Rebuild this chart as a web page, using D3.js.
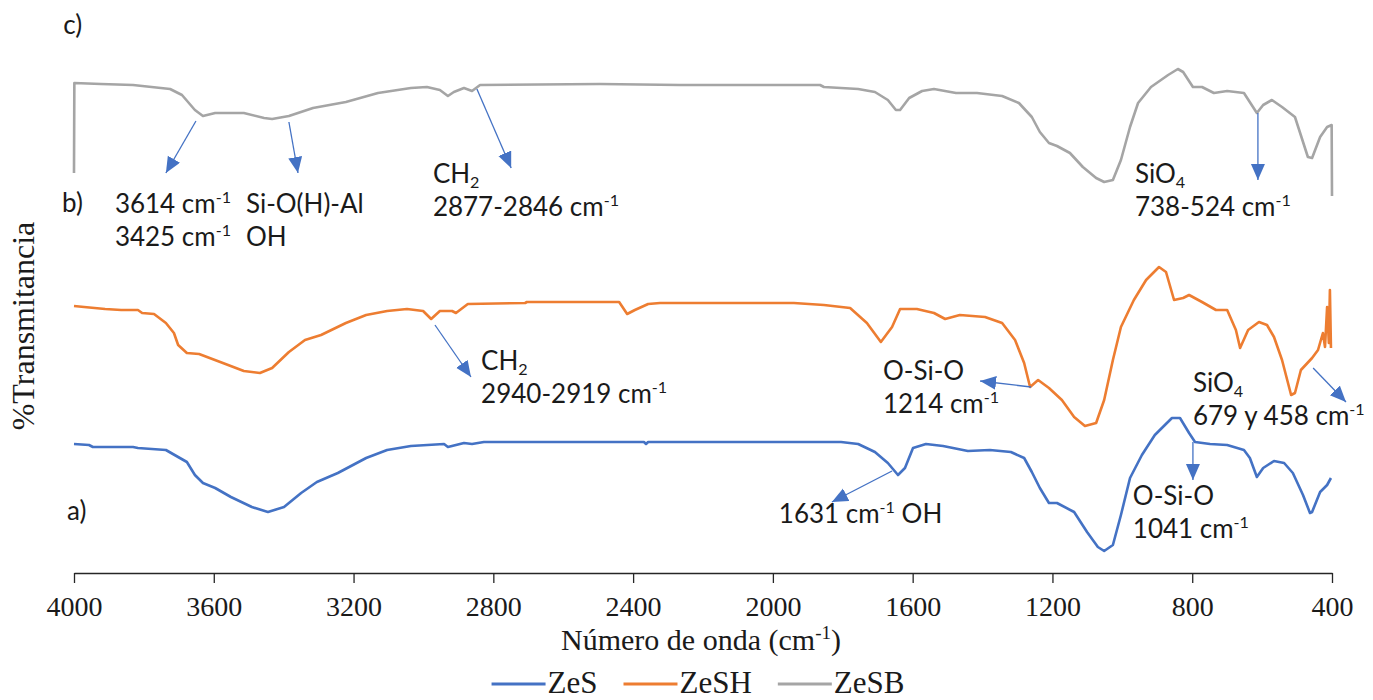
<!DOCTYPE html>
<html>
<head>
<meta charset="utf-8">
<script src="https://cdn.jsdelivr.net/npm/d3@7"></script>
<style>
  body { margin: 0; background: #ffffff; }
  svg { display: block; }
</style>
</head>
<body>
<svg id="chart" width="1373" height="700"></svg>
<script>
// ---- FTIR spectra: wavenumber (cm-1) and transmittance (offset, arbitrary %T) ----
const seriesNames = ["ZeS", "ZeSH", "ZeSB"];
const seriesColors = ["#4472C4", "#ED7D31", "#A5A5A5"];
const xTickValues = [4000, 3600, 3200, 2800, 2400, 2000, 1600, 1200, 800, 400];

// a) ZeS
const zesWn = [4000, 3957, 3946, 3831, 3817, 3737, 3702, 3677, 3654, 3631, 3596, 3551, 3491, 3445, 3399, 3350, 3305, 3245, 3164, 3104, 3036, 2941, 2930, 2884, 2861, 2827, 2369, 2363, 2357, 1805, 1756, 1708, 1671, 1642, 1622, 1599, 1562, 1513, 1442, 1379, 1319, 1281, 1259, 1236, 1210, 1187, 1138, 1101, 1070, 1052, 1027, 1004, 978, 944, 907, 858, 835, 809, 792, 749, 700, 652, 635, 615, 597, 566, 537, 512, 483, 463, 457, 434, 414, 403];
const zesT = [25.8, 25.6, 25.2, 25.2, 25.0, 24.6, 23.2, 22.2, 19.6, 18.0, 17.0, 15.2, 13.2, 12.2, 13.2, 16.0, 18.2, 20.0, 23.0, 24.6, 25.4, 25.8, 25.2, 26.0, 25.8, 26.2, 26.2, 25.8, 26.2, 26.2, 25.8, 24.2, 22.0, 19.6, 21.0, 25.0, 25.8, 25.4, 24.4, 24.6, 24.2, 23.0, 20.2, 17.0, 14.0, 14.0, 12.2, 8.2, 5.2, 4.4, 5.6, 11.6, 19.0, 23.6, 27.6, 31.0, 31.0, 28.0, 26.2, 25.8, 25.6, 24.6, 23.0, 19.2, 21.0, 22.4, 22.0, 20.0, 15.6, 12.0, 12.2, 16.2, 17.6, 19.0];

// b) ZeSH
const zeshWn = [4000, 3971, 3911, 3865, 3817, 3805, 3771, 3737, 3714, 3702, 3677, 3642, 3574, 3514, 3468, 3433, 3385, 3339, 3293, 3222, 3164, 3104, 3047, 3001, 2978, 2953, 2918, 2907, 2873, 2709, 2704, 2440, 2417, 2395, 2357, 2323, 2266, 1940, 1854, 1779, 1731, 1691, 1659, 1636, 1588, 1539, 1507, 1465, 1393, 1344, 1307, 1281, 1264, 1241, 1210, 1173, 1138, 1107, 1075, 1052, 1027, 1004, 967, 932, 895, 875, 852, 826, 809, 772, 732, 700, 675, 663, 640, 609, 586, 566, 543, 517, 506, 489, 457, 440, 426, 420, 414, 409, 406, 403];
const zeshT = [53.4, 53.2, 52.8, 52.6, 52.6, 52.0, 51.8, 50.0, 48.0, 45.6, 44.0, 43.8, 42.0, 40.4, 40.0, 41.0, 44.2, 46.6, 47.6, 50.0, 51.6, 52.4, 52.8, 52.4, 50.8, 52.4, 52.4, 52.0, 53.8, 54.0, 54.2, 54.2, 51.8, 52.6, 53.8, 54.0, 54.0, 54.0, 53.6, 53.0, 50.0, 46.2, 49.2, 52.8, 52.8, 52.0, 50.8, 51.6, 51.2, 50.0, 46.6, 42.0, 37.2, 38.6, 37.0, 34.6, 31.2, 29.4, 30.0, 34.6, 42.6, 49.2, 54.6, 58.6, 61.2, 60.2, 54.6, 55.0, 55.6, 54.2, 52.6, 52.6, 48.6, 45.0, 48.6, 50.2, 49.6, 47.2, 42.6, 35.6, 36.0, 40.6, 43.0, 44.6, 48.0, 45.2, 53.2, 46.0, 56.6, 45.0];

// c) ZeSB
const zesbWn = [4000, 3999, 3923, 3831, 3725, 3691, 3654, 3631, 3596, 3514, 3456, 3433, 3385, 3316, 3222, 3130, 3036, 2990, 2953, 2930, 2913, 2884, 2861, 2838, 2495, 2266, 1865, 1854, 1756, 1708, 1671, 1648, 1636, 1610, 1573, 1539, 1476, 1416, 1344, 1296, 1259, 1236, 1210, 1187, 1150, 1113, 1075, 1052, 1027, 1004, 978, 955, 918, 869, 841, 826, 798, 772, 738, 700, 652, 615, 597, 572, 543, 506, 469, 457, 434, 414, 401, 400];
const zesbT = [80.0, 98.0, 97.8, 97.6, 96.8, 95.6, 92.6, 91.4, 92.0, 92.0, 91.0, 90.8, 91.4, 93.0, 94.2, 96.0, 97.0, 97.2, 96.6, 95.4, 96.2, 97.0, 96.4, 97.6, 97.8, 97.6, 97.6, 97.2, 96.8, 96.2, 94.6, 92.6, 92.6, 95.0, 96.4, 96.8, 96.0, 96.0, 95.4, 94.0, 91.2, 88.2, 86.0, 85.4, 84.0, 81.2, 79.0, 78.2, 78.6, 82.6, 89.2, 94.0, 97.2, 99.6, 100.8, 100.2, 97.2, 97.2, 96.0, 96.4, 96.0, 92.0, 93.6, 94.6, 93.2, 91.2, 83.2, 83.0, 87.2, 89.2, 89.6, 75.4];

// Band labels: [wavenumber, %T] anchor of the first line, text lines ("_{}" subscript, "^{}" superscript)
const bandLabels = [
  { at: [4031, 107.8], lines: ["c)"] },
  { at: [4034, 72.2], lines: ["b)"] },
  { at: [4020, 10.6], lines: ["a)"] },
  { at: [3883, 72.0], lines: ["3614 cm^{-1}", "3425 cm^{-1}"] },
  { at: [3508, 72.0], lines: ["Si-O(H)-Al", "OH"] },
  { at: [2973, 78.0], lines: ["CH_{2}", "2877-2846 cm^{-1}"] },
  { at: [964, 78.0], lines: ["SiO_{4}", "738-524 cm^{-1}"] },
  { at: [2835, 40.6], lines: ["CH_{2}", "2940-2919 cm^{-1}"] },
  { at: [1685, 38.6], lines: ["O-Si-O", "1214 cm^{-1}"] },
  { at: [798, 36.2], lines: ["SiO_{4}", "679 y 458 cm^{-1}"] },
  { at: [1983, 10.0], lines: ["1631 cm^{-1} OH"] },
  { at: [970, 13.6], lines: ["O-Si-O", "1041 cm^{-1}"] }
];
// Arrows from a band to its label: [wnFrom, tFrom, wnTo, tTo]
const bandArrows = [
  [3651, 90.4, 3737, 80.0],
  [3385, 90.2, 3359, 80.0],
  [2847, 96.8, 2749, 81.0],
  [612, 92.0, 612, 78.6],
  [2967, 49.6, 2864, 39.2],
  [1261, 37.2, 1407, 38.4],
  [454, 41.0, 360, 34.2],
  [1659, 20.4, 1831, 14.2],
  [798, 26.2, 798, 18.6]
];

const svg = d3.select("#chart");
const serif = "'Liberation Serif', 'Times New Roman', serif";
const sans = "Lato, 'Open Sans', sans-serif";
const annSize = 26;

const x = d3.scaleLinear().domain([4000, 400]).range([74, 1332]);
const y = d3.scaleLinear().domain([0, 104]).range([573, 53]);

// spectra
const series = [
  { wn: zesWn, t: zesT },
  { wn: zeshWn, t: zeshT },
  { wn: zesbWn, t: zesbT }
];
const line = d3.line().x(d => x(d[0])).y(d => y(d[1]));
series.forEach((s, i) => {
  svg.append("path")
    .datum(s.wn.map((w, k) => [w, s.t[k]]))
    .attr("d", line)
    .attr("fill", "none")
    .attr("stroke", seriesColors[i])
    .attr("stroke-width", 2.6)
    .attr("stroke-linejoin", "round");
});

// x axis
const xAxis = svg.append("g")
  .attr("transform", `translate(0,${y(0)})`)
  .call(d3.axisBottom(x).tickValues(xTickValues).tickFormat(d3.format("d"))
    .tickSize(10).tickSizeOuter(0).tickPadding(13));
xAxis.select(".domain").attr("stroke", "#262626").attr("stroke-width", 1.6);
xAxis.selectAll(".tick line").attr("stroke", "#262626").attr("stroke-width", 1.3);
xAxis.selectAll(".tick text")
  .attr("font-family", serif).attr("font-size", 28).attr("fill", "#1a1a1a");

// axis titles
const xTitle = svg.append("text")
  .attr("x", 701).attr("y", 650)
  .attr("text-anchor", "middle")
  .attr("font-family", serif).attr("font-size", 30).attr("fill", "#1a1a1a");
xTitle.append("tspan").text("Número de onda (cm");
xTitle.append("tspan").attr("font-size", 19).attr("dy", -11).text("-1");
xTitle.append("tspan").attr("dy", 11).text(")");

svg.append("text")
  .attr("transform", "translate(34,326) rotate(-90)")
  .attr("text-anchor", "middle")
  .attr("font-family", serif).attr("font-size", 32).attr("fill", "#1a1a1a")
  .text("%Transmitancia");

// text with simple sub/superscript markup
function richText(sel, str, size) {
  const parts = str.split(/(\^\{[^}]*\}|_\{[^}]*\})/).filter(p => p.length);
  let shift = 0;
  parts.forEach(p => {
    const ts = sel.append("tspan");
    if (p.startsWith("^{")) {
      ts.attr("font-size", size * 0.62).attr("dy", -size * 0.38 - shift).text(p.slice(2, -1));
      shift = -size * 0.38;
    } else if (p.startsWith("_{")) {
      ts.attr("font-size", size * 0.62).attr("dy", size * 0.2 - shift).text(p.slice(2, -1));
      shift = size * 0.2;
    } else {
      ts.attr("dy", -shift).text(p);
      shift = 0;
    }
  });
}

const lineGap = 33;
bandLabels.forEach(lb => {
  lb.lines.forEach((ln, k) => {
    const t = svg.append("text")
      .attr("x", x(lb.at[0]))
      .attr("y", y(lb.at[1]) + k * lineGap)
      .attr("font-family", sans).attr("font-size", annSize).attr("fill", "#1a1a1a");
    richText(t, ln, annSize);
  });
});

// arrows
svg.append("defs").append("marker")
  .attr("id", "head")
  .attr("markerUnits", "userSpaceOnUse")
  .attr("markerWidth", 18).attr("markerHeight", 16)
  .attr("refX", 16).attr("refY", 7)
  .attr("orient", "auto")
  .append("path").attr("d", "M0,0 L16,7 L0,14 Z").attr("fill", "#4472C4");
bandArrows.forEach(a => {
  svg.append("line")
    .attr("x1", x(a[0])).attr("y1", y(a[1]))
    .attr("x2", x(a[2])).attr("y2", y(a[3]))
    .attr("stroke", "#4472C4").attr("stroke-width", 1.3)
    .attr("marker-end", "url(#head)");
});

// legend
const legend = svg.append("g");
let lx = 0;
seriesNames.forEach((name, i) => {
  const g = legend.append("g").attr("transform", `translate(${lx},0)`);
  g.append("line").attr("x1", 0).attr("x2", 54).attr("y1", 0).attr("y2", 0)
    .attr("stroke", seriesColors[i]).attr("stroke-width", 3);
  const tx = g.append("text").attr("x", 56).attr("y", 9)
    .attr("font-family", serif).attr("font-size", 31).attr("fill", "#1a1a1a").text(name);
  lx += 56 + tx.node().getComputedTextLength() + 26;
});
const legendW = lx - 26;
legend.attr("transform", `translate(${698 - legendW / 2},684)`);
</script>
</body>
</html>
